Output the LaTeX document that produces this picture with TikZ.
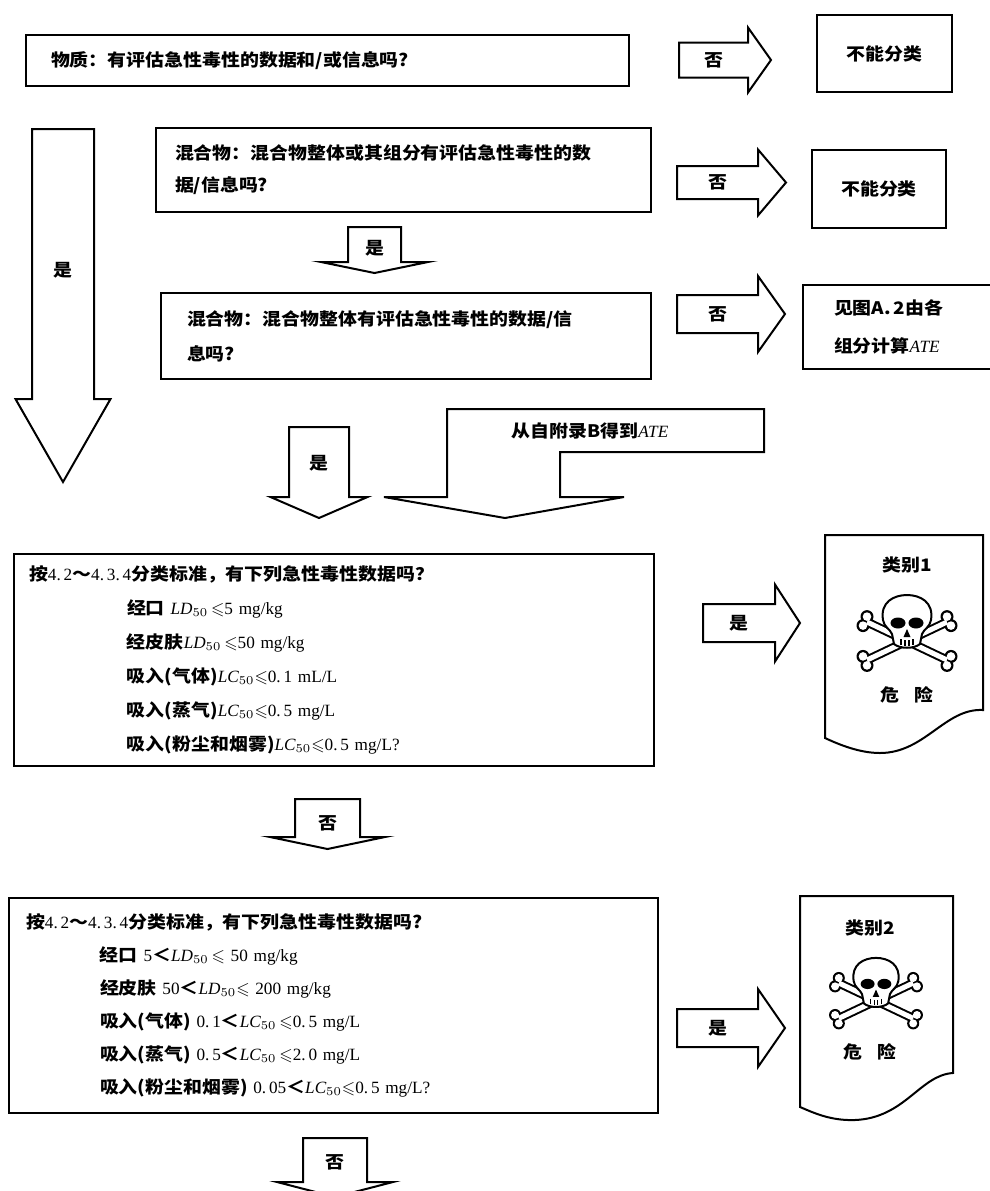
\documentclass[tikz,border=0pt]{standalone}
\usepackage{fontspec}
\usepackage{amssymb}
\setmainfont{Liberation Serif}
\newfontfamily\cjk[FakeStretch=1.1]{Noto Sans CJK SC}
\newcommand\lt[1]{{\rmfamily\mdseries #1}}
\newcommand\LDf{$\mathit{LD}_{50}$}
\newcommand\LCf{$\mathit{LC}_{50}$}

\tikzset{
  box/.style={draw, line width=1pt, inner ysep=0pt, anchor=north west, align=left},
  txt/.style={font=\cjk\bfseries\fontsize{8.6}{#1}\selectfont},
  txt/.default=16,
  blk/.style={draw, line width=1pt, line join=miter, fill=white},
  lbl/.style={font=\cjk\bfseries\fontsize{8.6}{10}\selectfont, inner sep=0pt},
  skull/.pic={
    \draw[line width=4.5pt] (-40,0) -- (40,38) (40,0) -- (-40,38);
    \foreach \k in {(-44,3.6),(-40,-5.4),(40,43.4),(44,34.4),(44,3.6),(40,-5.4),(-40,43.4),(-44,34.4)}
      \fill \k circle (6.5);
    \draw[white, line width=2.5pt] (-40,0) -- (40,38) (40,0) -- (-40,38);
    \foreach \k in {(-44,3.6),(-40,-5.4),(40,43.4),(44,34.4),(44,3.6),(40,-5.4),(-40,43.4),(-44,34.4)}
      \fill[white] \k circle (4.3);
    \filldraw[fill=white, line width=1pt] (-24,-2) .. controls (-27,-20) and (-13,-27) .. (0,-27)
      .. controls (13,-27) and (27,-20) .. (24,-2) .. controls (23,5) and (17,7) .. (15,12)
      -- (13,22) .. controls (7,27) and (-7,27) .. (-13,22) -- (-15,12)
      .. controls (-17,7) and (-23,5) .. (-24,-2) -- cycle;
    \fill (-9,1) ellipse [x radius=7.5, y radius=5.5];
    \fill (9,1) ellipse [x radius=7.5, y radius=5.5];
    \fill (0,7) -- (-3.5,15) -- (3.5,15) -- cycle;
    \draw[line width=0.6pt] (-6,17) -- (-6,23) (-2,18) -- (-2,24) (2,18) -- (2,24) (6,17) -- (6,23);
  }
}

\begin{document}
\begin{tikzpicture}[x=0.5pt, y=-0.5pt]
  \useasboundingbox (0,0) rectangle (990,1191);

  % question boxes
  \node[box, txt, inner xsep=12.5pt, text width=276.5pt, minimum height=25.5pt] (sub) at (25,34)
    {物质：有评估急性毒性的数据和/或信息吗?};
  \node[box, txt=16, inner xsep=9.5pt, text width=228.5pt, minimum height=42pt] (mixall) at (155,127)
    {混合物：混合物整体或其组分有评估急性毒性的数\\据/信息吗?};
  \node[box, txt=17.5, inner xsep=13pt, text width=219pt, minimum height=43pt] (mixwhole) at (160,292)
    {混合物：混合物整体有评估急性毒性的数据/信\\息吗?};
  \node[box, txt=17, inner xsep=7.5pt, text width=305pt, minimum height=106pt] (cat1q) at (13,553)
    {按\lt{4.\,2}～\lt{4.\,3.\,4}分类标准，有下列急性毒性数据吗？\\
     \hspace*{49pt}经口 \LDf\,$\leqslant$\lt{5 mg/kg}\\
     \hspace*{49pt}经皮肤\LDf\,$\leqslant$\lt{50 mg/kg}\\
     \hspace*{49pt}吸入(气体)\LCf$\leqslant$\lt{0.\,1 mL/L}\\
     \hspace*{49pt}吸入(蒸气)\LCf$\leqslant$\lt{0.\,5 mg/L}\\
     \hspace*{49pt}吸入(粉尘和烟雾)\LCf$\leqslant$\lt{0.\,5 mg/L?}};
  \node[box, txt=16.5, inner xsep=8.5pt, text width=307.5pt, minimum height=107.5pt] (cat2q) at (8,897)
    {按\lt{4.\,2}～\lt{4.\,3.\,4}分类标准，有下列急性毒性数据吗?\\
     \hspace*{37pt}经口 \lt{5}＜\LDf\,$\leqslant$\lt{ 50 mg/kg}\\
     \hspace*{37pt}经皮肤 \lt{50}＜\LDf$\leqslant$\lt{ 200 mg/kg}\\
     \hspace*{37pt}吸入(气体) \lt{0.\,1}＜\LCf\,$\leqslant$\lt{0.\,5 mg/L}\\
     \hspace*{37pt}吸入(蒸气) \lt{0.\,5}＜\LCf\,$\leqslant$\lt{2.\,0 mg/L}\\
     \hspace*{37pt}吸入(粉尘和烟雾) \lt{0.\,05}＜\LCf$\leqslant$\lt{0.\,5 mg/L?}};

  % result boxes
  \node[box, txt, align=center, minimum width=67.5pt, minimum height=38.5pt] (nocls1) at (816,14) {不能分类};
  \node[box, txt, align=center, minimum width=67pt, minimum height=39pt] (nocls2) at (811,149) {不能分类};
  \node[box, txt=19, inner xsep=15.5pt, text width=80pt, minimum height=42pt] (calc) at (802,284)
    {见图A.\,2由各\\组分计算\lt{\itshape ATE}};

  \draw[line width=1pt] (825,535) -- (983,535) -- (983,710) .. controls (945,708) and (925,753) .. (880,753)
    .. controls (860,753) and (840,745) .. (825,738) -- cycle;
  \node[lbl] (cat1) at (907,565) {类别1};
  \pic at (907,622) {skull};
  \node[lbl] (warn1) at (907,695) {危\hspace{8pt}险};

  \draw[line width=1pt] (800,896) -- (953,896) -- (953,1073) .. controls (920,1075) and (905,1118) .. (855,1120)
    .. controls (830,1121) and (812,1112) .. (800,1107) -- cycle;
  \node[lbl] (cat2) at (870,928) {类别2};
  \pic[scale=0.93] at (876,983) {skull};
  \node[lbl] (warn2) at (870,1052) {危\hspace{8pt}险};

  % block arrows
  \foreach \n/\xa/\xb/\xc/\c/\s/\h/\t in {
      no1/679/748/771/60/17.5/32.5/否,
      no2/677/758/786/182.5/16.5/33/否,
      no3/677/758/785/314/19/38/否,
      yes4/703/775/800/623/19/38.5/是,
      yes5/677/758/785/1028/19/39/是}
  {
    \draw[blk] (\xa,{\c-\s}) -- (\xb,{\c-\s}) -- (\xb,{\c-\h}) -- (\xc,\c) -- (\xb,{\c+\h})
      -- (\xb,{\c+\s}) -- (\xa,{\c+\s}) -- cycle;
    \node[lbl] (\n) at ({(\xa+\xb)/2},\c) {\t};
  }
  \foreach \n/\c/\s/\h/\ya/\yb/\yc/\ly/\t in {
      yes1/63/31/47.5/129/399/482/270/是,
      yes2/374.5/26.5/53.5/227/262/273/248/是,
      yes3/319/30/48.5/427/497/518/463/是,
      no4/327.5/32.5/57.5/799/837/849/823/否,
      no5/335/32/58/1138/1182/1197/1162/否}
  {
    \draw[blk] ({\c-\s},\ya) -- ({\c+\s},\ya) -- ({\c+\s},\yb) -- ({\c+\h},\yb) -- (\c,\yc)
      -- ({\c-\h},\yb) -- ({\c-\s},\yb) -- cycle;
    \node[lbl] (\n) at (\c,\ly) {\t};
  }

  \draw[blk] (447,409) -- (764,409) -- (764,452) -- (560,452) -- (560,497) -- (624,497) -- (505,518)
    -- (384,497) -- (447,497) -- cycle;
  \node[lbl] (annexb) at (590,431) {从自附录B得到\lt{\itshape ATE}};
\end{tikzpicture}
\end{document}
